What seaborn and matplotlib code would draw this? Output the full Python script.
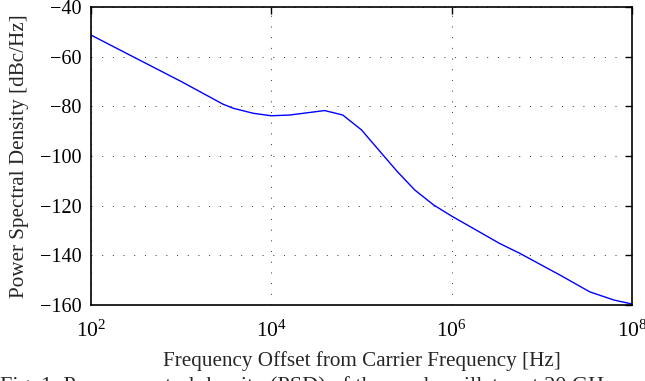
import numpy as np
import pandas as pd
import matplotlib
matplotlib.use("Agg")
import matplotlib.pyplot as plt
import seaborn as sns
from matplotlib.ticker import NullLocator

# Data
freq_hz = [1e2, 1e3, 2.9e3, 3.8e3, 6.3e3, 1e4, 1.6e4, 3.9e4, 6.2e4, 1e5,
           1.8e5, 2.5e5, 3.9e5, 6.3e5, 1e6, 3.4e6, 5.7e6, 1.6e7, 3.4e7, 6.3e7, 1e8]
psd_dbc = [-51.3, -70.0, -79.1, -80.8, -82.8, -83.8, -83.5, -81.7, -83.5, -89.5,
           -100.3, -106.3, -113.7, -119.7, -124.2, -135.2, -139.2, -148.0, -154.7, -158.0, -159.6]
x_ticks = [1e2, 1e4, 1e6, 1e8]
y_ticks = [-160, -140, -120, -100, -80, -60, -40]
x_label = "Frequency Offset from Carrier Frequency [Hz]"
y_label = "Power Spectral Density [dBc/Hz]"
caption = "Fig. 1. Power spectral density (PSD) of the used oscillator at 20 GHz."

sns.set_style("white")
plt.rcParams["font.family"] = ["Liberation Serif", "DejaVu Serif"]
plt.rcParams["mathtext.fontset"] = "custom"
plt.rcParams["mathtext.rm"] = "Liberation Serif"
plt.rcParams["mathtext.it"] = "Liberation Serif:italic"
plt.rcParams["axes.unicode_minus"] = True

df = pd.DataFrame({"f": freq_hz, "psd": psd_dbc})

W, H = 645, 381
fig = plt.figure(figsize=(W / 100, H / 100), dpi=100)
ax = fig.add_axes([91 / W, 1 - 305 / H, (632 - 91) / W, (305 - 7) / H])

sns.lineplot(data=df, x="f", y="psd", ax=ax, color="#0000ff", linewidth=1.0)

ax.set_xscale("log")
ax.set_xlim(1e2, 1e8)
ax.set_ylim(-160, -40)
ax.set_yticks(y_ticks)
ax.set_xticks(x_ticks)
ax.xaxis.set_minor_locator(NullLocator())

ax.grid(True, which="major", color="#333333", linewidth=0.7,
        linestyle=(0, (1, 10)))
for s in ax.spines.values():
    s.set_color("black")
    s.set_linewidth(1.2)

ax.tick_params(axis="both", which="major", direction="in", length=5, width=1.0,
               top=True, right=True, labelsize=14.5, colors="black")
ax.tick_params(axis="x", pad=11, labelsize=15.5)
ax.tick_params(axis="y", pad=7)

ax.set_xlabel(x_label, fontsize=15.2, labelpad=7)
ax.set_ylabel(y_label, fontsize=15.2, labelpad=8)

fig.text(0.0, 1 - 376.5 / H, caption, fontsize=16, ha="left", va="top")

fig.savefig("out.png", dpi=100)
